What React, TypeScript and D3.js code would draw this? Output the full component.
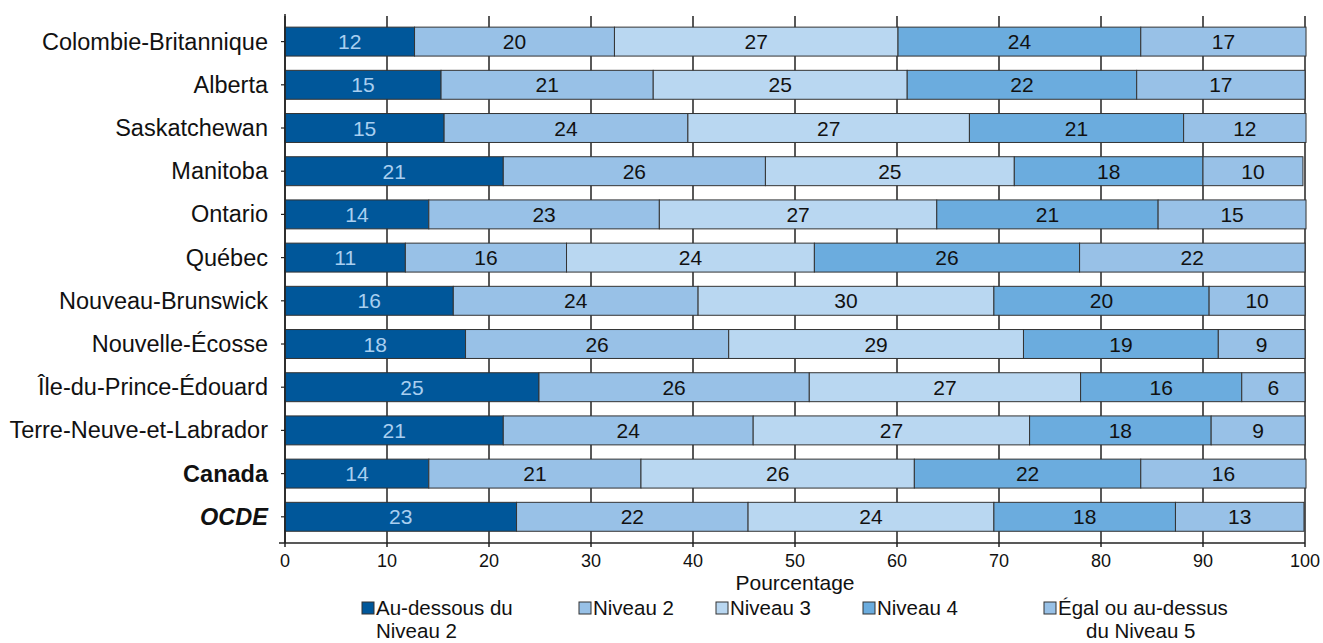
import React from "react";
import * as d3 from "d3";

const categories = [
  "Colombie-Britannique",
  "Alberta",
  "Saskatchewan",
  "Manitoba",
  "Ontario",
  "Québec",
  "Nouveau-Brunswick",
  "Nouvelle-Écosse",
  "Île-du-Prince-Édouard",
  "Terre-Neuve-et-Labrador",
  "Canada",
  "OCDE",
];

const seriesNames = [
  "Au-dessous du Niveau 2",
  "Niveau 2",
  "Niveau 3",
  "Niveau 4",
  "Égal ou au-dessus du Niveau 5",
];

// segment widths (percent) as drawn
const belowLevel2 = [12.7, 15.3, 15.6, 21.4, 14.1, 11.8, 16.5, 17.7, 24.9, 21.4, 14.1, 22.7];
const level2 = [19.6, 20.8, 23.9, 25.7, 22.6, 15.8, 24.0, 25.8, 26.5, 24.5, 20.8, 22.7];
const level3 = [27.8, 24.9, 27.6, 24.4, 27.2, 24.3, 29.0, 28.9, 26.6, 27.1, 26.8, 24.1];
const level4 = [23.8, 22.5, 21.0, 18.5, 21.7, 26.0, 21.1, 19.1, 15.8, 17.8, 22.2, 17.8];
const level5 = [16.2, 16.5, 12.0, 9.8, 14.5, 22.1, 9.4, 8.5, 6.2, 9.2, 16.2, 12.6];

// printed labels
const labelsBelow2 = [12, 15, 15, 21, 14, 11, 16, 18, 25, 21, 14, 23];
const labelsL2 = [20, 21, 24, 26, 23, 16, 24, 26, 26, 24, 21, 22];
const labelsL3 = [27, 25, 27, 25, 27, 24, 30, 29, 27, 27, 26, 24];
const labelsL4 = [24, 22, 21, 18, 21, 26, 20, 19, 16, 18, 22, 18];
const labelsL5 = [17, 17, 12, 10, 15, 22, 10, 9, 6, 9, 16, 13];

const xTicks = [0, 10, 20, 30, 40, 50, 60, 70, 80, 90, 100];

const colors = ["#00579A", "#98C1E7", "#B9D7F1", "#6BACDE", "#98C1E7"];
const textColors = ["#A9CFF0", "#111", "#111", "#111", "#111"];

const FONT = "'Liberation Sans', Arial, sans-serif";

export default function App() {
  const W = 1323;
  const H = 643;
  const x0 = 285;
  const x1 = 1305;
  const gridTop = 16;
  const axisY = 543;

  const x = d3.scaleLinear().domain([0, 100]).range([x0, x1]);
  const y = d3
    .scaleBand<string>()
    .domain(categories)
    .range([20, 538.4])
    .paddingInner(0.33)
    .paddingOuter(0.165);

  const series = [belowLevel2, level2, level3, level4, level5];
  const labels = [labelsBelow2, labelsL2, labelsL3, labelsL4, labelsL5];

  const rows = categories.map((c, i) => {
    const obj: any = { cat: c };
    series.forEach((s, k) => (obj["s" + k] = s[i]));
    return obj;
  });
  const stack = d3.stack<any>().keys(["s0", "s1", "s2", "s3", "s4"])(rows);

  const legendItems = [
    { x: 362, lines: ["Au-dessous du", "Niveau 2"], dx: 0 },
    { x: 579, lines: ["Niveau 2"], dx: 0 },
    { x: 716, lines: ["Niveau 3"], dx: 0 },
    { x: 863, lines: ["Niveau 4"], dx: 0 },
    { x: 1044, lines: ["Égal ou au-dessus", "du Niveau 5"], dx: 28 },
  ];

  return (
    <svg
      width={W}
      height={H}
      style={{ position: "absolute", left: 0, top: 0, background: "#fff" }}
      fontFamily={FONT}
    >
      {/* gridlines */}
      {xTicks.map((t) => (
        <line
          key={"g" + t}
          x1={x(t)}
          x2={x(t)}
          y1={gridTop}
          y2={axisY}
          stroke="#222"
          strokeWidth={1.5}
        />
      ))}

      {/* bars */}
      {stack.map((layer, k) =>
        layer.map((d, i) => (
          <rect
            key={"r" + k + "-" + i}
            x={x(d[0])}
            y={y(categories[i])!}
            width={x(d[1]) - x(d[0])}
            height={y.bandwidth()}
            fill={colors[k]}
            stroke="#333"
            strokeWidth={1}
          />
        ))
      )}

      {/* value labels */}
      {stack.map((layer, k) =>
        layer.map((d, i) => (
          <text
            key={"t" + k + "-" + i}
            x={(x(d[0]) + x(d[1])) / 2}
            y={y(categories[i])! + y.bandwidth() / 2 + 7.5}
            textAnchor="middle"
            fontSize={21}
            fill={textColors[k]}
          >
            {labels[k][i]}
          </text>
        ))
      )}

      {/* left axis */}
      <line x1={x0} x2={x0} y1={14} y2={axisY} stroke="#222" strokeWidth={1.5} />
      {categories.map((c) => (
        <line
          key={"yt" + c}
          x1={x0 - 4}
          x2={x0}
          y1={y(c)! + y.bandwidth() / 2}
          y2={y(c)! + y.bandwidth() / 2}
          stroke="#222"
          strokeWidth={1.2}
        />
      ))}
      {categories.map((c) => (
        <text
          key={"yl" + c}
          x={268}
          y={y(c)! + y.bandwidth() / 2 + 8}
          textAnchor="end"
          fontSize={23.5}
          fill="#111"
          fontWeight={c === "Canada" || c === "OCDE" ? "bold" : "normal"}
          fontStyle={c === "OCDE" ? "italic" : "normal"}
        >
          {c}
        </text>
      ))}

      {/* bottom axis */}
      <line x1={x0 - 6} x2={x1} y1={axisY} y2={axisY} stroke="#222" strokeWidth={1.5} />
      {xTicks.map((t) => (
        <line
          key={"xt" + t}
          x1={x(t)}
          x2={x(t)}
          y1={axisY}
          y2={axisY + 4}
          stroke="#222"
          strokeWidth={1.5}
        />
      ))}
      {xTicks.map((t) => (
        <text
          key={"xl" + t}
          x={x(t)}
          y={567}
          textAnchor="middle"
          fontSize={18}
          fill="#111"
        >
          {t}
        </text>
      ))}
      <text x={(x0 + x1) / 2} y={590} textAnchor="middle" fontSize={21} fill="#111">
        Pourcentage
      </text>

      {/* legend */}
      {legendItems.map((it, k) => (
        <g key={"lg" + k}>
          <rect
            x={it.x}
            y={602}
            width={12}
            height={12}
            fill={colors[k]}
            stroke="#333"
            strokeWidth={1}
          />
          {it.lines.map((ln, j) => (
            <text
              key={j}
              x={it.x + 14 + (j > 0 ? it.dx : 0)}
              y={615 + j * 23}
              fontSize={20.5}
              fill="#111"
            >
              {ln}
            </text>
          ))}
        </g>
      ))}
    </svg>
  );
}
